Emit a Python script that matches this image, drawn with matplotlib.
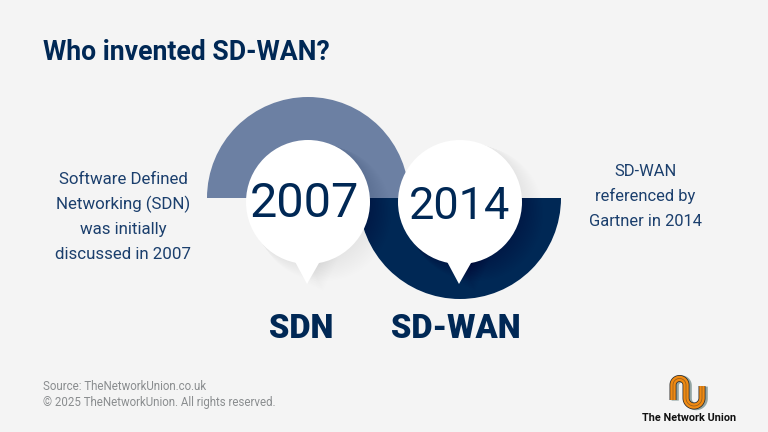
import matplotlib
matplotlib.use("Agg")
import matplotlib.pyplot as plt
from matplotlib.patches import Circle, Wedge, Polygon
import numpy as np

TITLE = "Who invented SD-WAN?"
years = ["2007", "2014"]
names = ["SDN", "SD-WAN"]
left_note = ["Software Defined", "Networking (SDN)", "was initially", "discussed in 2007"]
right_note = ["SD-WAN", "referenced by", "Gartner in 2014"]
footer = ["Source: TheNetworkUnion.co.uk", "\u00a9 2025 TheNetworkUnion. All rights reserved."]
logo_text = "The Network Union"

BG = "#f4f4f4"
NAVY = "#002855"
NOTE = "#1b3f6d"
SLATE = "#6c80a3"
GREY = "#8a8d8f"
plt.rcParams["font.family"] = ["Roboto", "DejaVu Sans"]

fig = plt.figure(figsize=(7.68, 4.32), dpi=100, facecolor=BG)
ax = fig.add_axes([0, 0, 1, 1])
ax.set_xlim(0, 768)
ax.set_ylim(432, 0)
ax.axis("off")

ring_r = 101
ring_y = 198
bub_r = 62
bub_y = 202
bub_x = [308, 460]
ring_x = [308, 460]
# y axis is inverted: 180..360 degrees draws upward on screen
ax.add_patch(Wedge((ring_x[0], ring_y), ring_r, 180, 360, fc=SLATE, ec="none", zorder=1))
ax.add_patch(Wedge((ring_x[1], ring_y), ring_r, 0, 180, fc=NAVY, ec="none", zorder=2))

for cx, z in zip(bub_x, [3, 6]):
    for k in range(14, 0, -1):
        off = 1.5 * k
        sx, sy = cx + off * 0.75, bub_y + off * 0.55
        ax.add_patch(Circle((sx, sy), bub_r + 0.4 * k, fc="black", ec="none", alpha=0.004, zorder=z))
        ax.add_patch(Polygon([(sx - 16, 256 + off * 0.1), (sx - 1, 284 + off * 0.35), (sx + 15, 256 + off * 0.1)],
                             fc="black", ec="none", alpha=0.004, zorder=z))
    ax.add_patch(Polygon([(cx - 16, 256), (cx - 1, 284), (cx + 15, 256)], fc="white", ec="none", zorder=z + 1))
    ax.add_patch(Circle((cx, bub_y), bub_r, fc="white", ec="none", zorder=z + 1))

ax.text(304, 204, years[0], ha="center", va="center", fontsize=35, color=NAVY, zorder=10)
ax.text(459.5, 207, years[1], ha="center", va="center", fontsize=32.5, color=NAVY, zorder=10)

ax.text(301.5, 329, names[0], ha="center", va="center", fontsize=23.5, fontweight="black", color=NAVY, zorder=10)
ax.text(455.5, 329, names[1], ha="center", va="center", fontsize=23.5, fontweight="black", color=NAVY, zorder=10)

ax.text(43, 53, TITLE, ha="left", va="center", fontsize=19.2, fontweight="bold", color=NAVY)

for i, s in enumerate(left_note):
    ax.text(123, 180 + i * 24.7, s, ha="center", va="center", fontsize=12.2, color=NOTE)
for i, s in enumerate(right_note):
    ax.text(645.5, 171 + i * 25, s, ha="center", va="center", fontsize=11.9, color=NOTE)

ax.text(43, 386.5, footer[0], ha="left", va="center", fontsize=8.3, color=GREY)
ax.text(43, 402.5, footer[1], ha="left", va="center", fontsize=8.3, color=GREY)

# logo
t = np.linspace(np.pi, 0, 40)
a_x = 679.5 + 6.5 * np.cos(t); a_y = 385 - 6.5 * np.sin(t)
u_t = np.linspace(np.pi, 2 * np.pi, 40)
b_x = 694 + 8 * np.cos(u_t); b_y = 398 - 8 * np.sin(u_t)
lx = np.r_[673, a_x, b_x, 702]
ly = np.r_[400, a_y, b_y, 386]
ax.plot(lx + 2.2, ly + 0.6, color="#93a5a3", lw=5.2, solid_capstyle="butt", zorder=3)
ax.plot(lx, ly, color="#2a2a2a", lw=5.0, solid_capstyle="butt", zorder=4)
ax.plot(lx, ly, color="#f08a12", lw=3.9, solid_capstyle="butt", zorder=5)
ax.plot(lx, ly, color="#8a5a22", lw=0.5, solid_capstyle="butt", zorder=6)
ax.text(689, 418, logo_text, ha="center", va="center", fontsize=7.8, fontweight="bold", color="#111111")

fig.savefig("out.png", dpi=100, facecolor=BG)
